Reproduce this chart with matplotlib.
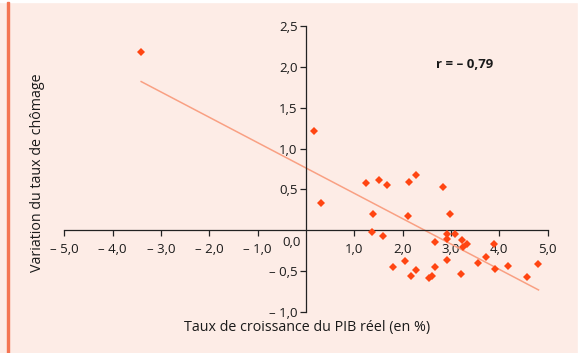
import matplotlib
matplotlib.use("Agg")
import matplotlib.pyplot as plt
from matplotlib.patches import Rectangle

plt.rcParams['font.family'] = ['Open Sans', 'DejaVu Sans']

# Données
pib = [-3.41, 0.17, 0.30, 1.24, 1.50, 1.68, 2.13, 2.28, 2.84, 1.39, 2.10, 2.97,
       1.37, 1.59, 2.92, 3.08, 2.67, 2.92, 3.23, 3.24, 3.34, 3.88, 2.92, 3.72,
       3.56, 2.04, 1.81, 2.28, 2.67, 3.90, 4.17, 4.80, 2.17, 2.54, 2.60, 3.20, 4.57]
chomage = [2.18, 1.22, 0.33, 0.58, 0.62, 0.55, 0.59, 0.68, 0.53, 0.20, 0.18, 0.20,
           -0.02, -0.07, -0.04, -0.04, -0.14, -0.11, -0.12, -0.20, -0.17, -0.17, -0.36, -0.33,
           -0.40, -0.37, -0.45, -0.48, -0.45, -0.47, -0.44, -0.41, -0.56, -0.58, -0.56, -0.54, -0.57]
droite_x = [-3.41, 4.81]
droite_y = [1.82, -0.73]

xticks = [-5, -4, -3, -2, -1, 1, 2, 3, 4, 5]
xlabels = ["– 5,0", "– 4,0", "– 3,0", "– 2,0", "– 1,0", "1,0", "2,0", "3,0", "4,0", "5,0"]
yticks = [-1.0, -0.5, 0.5, 1.0, 1.5, 2.0, 2.5]
ylabels = ["– 1,0", "– 0,5", "0,5", "1,0", "1,5", "2,0", "2,5"]

fond = "#fdece6"
W, H = 582, 353
fig = plt.figure(figsize=(5.82, 3.53), dpi=100, facecolor=fond)

# bandes blanches et filet orange
fig.patches.append(Rectangle((0, 1 - 2 / H), 1, 2 / H, transform=fig.transFigure,
                             color="white", zorder=0))
fig.patches.append(Rectangle((578 / W, 0), 4 / W, 1, transform=fig.transFigure,
                             color="white", zorder=0))
fig.patches.append(Rectangle((7 / W, 0), 2.2 / W, 1 - 2 / H, transform=fig.transFigure,
                             color="#f47552", zorder=1))

ax = fig.add_axes([64.3 / W, 41 / H, 483.4 / W, 286 / H])
ax.set_facecolor("none")
ax.set_xlim(-5, 5)
ax.set_ylim(-1, 2.5)

ax.plot(droite_x, droite_y, color="#f9a083", lw=1.1, zorder=2)
ax.plot(pib, chomage, linestyle="none", marker="D", markersize=4,
        color="#ff4512", markeredgewidth=0, zorder=3, clip_on=False)

for s in ["top", "right"]:
    ax.spines[s].set_visible(False)
ax.spines["left"].set_position(("data", 0))
ax.spines["bottom"].set_position(("data", 0))
for s in ["left", "bottom"]:
    ax.spines[s].set_color("#222222")
    ax.spines[s].set_linewidth(0.9)

ax.set_xticks(xticks)
ax.set_xticklabels(xlabels)
ax.set_yticks(yticks)
ax.set_yticklabels(ylabels)
ax.tick_params(axis="both", direction="out", length=4, width=0.9, color="#222222",
               labelsize=9.5, labelcolor="#1a1a1a")
ax.tick_params(axis="x", pad=5)
ax.tick_params(axis="y", pad=2)

ax.annotate("0,0", (0, 0), xytext=(-14, -12), textcoords="offset pixels",
            ha="center", va="center", fontsize=9.5, color="#1a1a1a")
ax.text(3.29, 2.03, "r = – 0,79", ha="center", va="center", fontsize=9.5,
        fontweight="bold", color="#1a1a1a")

fig.text(38 / W, 1 - 173 / H, "Variation du taux de chômage", rotation=90,
         ha="center", va="center", fontsize=10.3, color="#1a1a1a")
fig.text(307 / W, 1 - 328 / H, "Taux de croissance du PIB réel (en %)",
         ha="center", va="center", fontsize=10.3, color="#1a1a1a")

fig.savefig("out.png", dpi=100, facecolor=fond)
